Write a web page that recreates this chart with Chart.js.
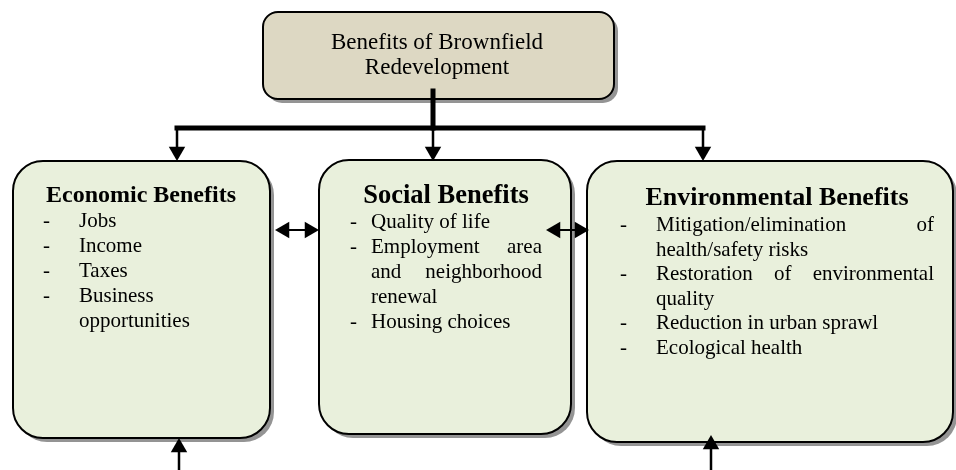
<!DOCTYPE html>
<html>
<head>
<meta charset="utf-8">
<script src="https://cdn.jsdelivr.net/npm/chart.js@4.4.1/dist/chart.umd.min.js"></script>
<style>
  body { margin: 0; background: #ffffff; }
  canvas { display: block; }
</style>
</head>
<body>
<canvas id="diagram" width="956" height="470"></canvas>
<script>
// ===============================
// Diagram content (text)
// ===============================
var titleLines = ["Benefits of Brownfield", "Redevelopment"];
var categories = ["Economic Benefits", "Social Benefits", "Environmental Benefits"];

// each item is a list of wrapped lines
var economicItems = [["Jobs"], ["Income"], ["Taxes"], ["Business", "opportunities"]];
var socialItems = [["Quality of life"], ["Employment area", "and neighborhood", "renewal"], ["Housing choices"]];
var environmentalItems = [
    ["Mitigation/elimination of", "health/safety risks"],
    ["Restoration of environmental", "quality"],
    ["Reduction in urban sprawl"],
    ["Ecological health"]
];
var categoryItems = [economicItems, socialItems, environmentalItems];

// ===============================
// Layout, in diagram units (x 0..956, y 0..470 downwards)
// ===============================
var topBox = { left: 263, right: 614, top: 12, bottom: 99, radius: 15, textX: 437, baselines: [49, 74], fontSize: 23 };
var subBoxes = [
    { left: 13,  right: 270, top: 161, bottom: 438, titleX: 141, titleY: 202, titleSize: 24,
      dashX: 43,  textX: 79,  rightX: 262, firstY: 227, step: 25 },
    { left: 319, right: 571, top: 160, bottom: 434, titleX: 446, titleY: 203, titleSize: 26.5,
      dashX: 350, textX: 371, rightX: 542, firstY: 228, step: 25 },
    { left: 587, right: 953, top: 161, bottom: 442, titleX: 777, titleY: 205, titleSize: 26,
      dashX: 620, textX: 656, rightX: 934, firstY: 231, step: 24.5 }
];

// connector segments: [x1, y1, x2, y2, width]
var connectors = [
    [433, 91, 433, 128, 5],
    [177, 128, 703, 128, 5],
    [177, 128, 177, 150, 2.5],
    [433, 128, 433, 150, 2.5],
    [703, 128, 703, 150, 2.5],
    [280, 230, 314, 230, 2],
    [551, 230, 584, 230, 2],
    [179, 470, 179, 448, 2.5],
    [711, 470, 711, 445, 2.5]
];
// arrow tips: [x, y, direction]
var arrowTips = [
    [177, 161, "down"], [433, 161, "down"], [703, 161, "down"],
    [275, 230, "left"], [319, 230, "right"],
    [546, 230, "left"], [589, 230, "right"],
    [179, 438, "up"], [711, 435, "up"]
];

var ARROW_R = 9.5;
var SERIF = "'Liberation Serif', 'Times New Roman', serif";

// ===============================
// Build datasets from the layout
// ===============================
var datasets = [];
connectors.forEach(function(c) {
    datasets.push({
        type: "line",
        data: [{ x: c[0], y: c[1] }, { x: c[2], y: c[3] }],
        borderColor: "#000000",
        borderWidth: c[4],
        borderCapStyle: c[4] > 3 ? "square" : "butt",
        pointRadius: 0,
        fill: false
    });
});

var rotations = { up: 0, right: 90, down: 180, left: 270 };
var dirs = { up: [0, -1], right: [1, 0], down: [0, 1], left: [-1, 0] };
var arrowPoints = arrowTips.map(function(a) {
    var d = dirs[a[2]];
    // triangle point style is centred, so step back from the tip by its radius
    return { x: a[0] - d[0] * ARROW_R, y: a[1] - d[1] * ARROW_R };
});
datasets.push({
    type: "scatter",
    data: arrowPoints,
    pointStyle: "triangle",
    pointRadius: ARROW_R,
    pointRotation: arrowTips.map(function(a) { return rotations[a[2]]; }),
    backgroundColor: "#000000",
    borderColor: "#000000",
    borderWidth: 0
});

// ===============================
// Plugin: boxes and text under the connectors
// ===============================
function justifyLine(ctx, text, x, y, width) {
    var words = text.split(" ");
    if (words.length < 2) { ctx.fillText(text, x, y); return; }
    var wordsWidth = 0;
    words.forEach(function(w) { wordsWidth += ctx.measureText(w).width; });
    var gap = (width - wordsWidth) / (words.length - 1);
    var cx = x;
    words.forEach(function(w) {
        ctx.fillText(w, cx, y);
        cx += ctx.measureText(w).width + gap;
    });
}

function drawBox(ctx, sx, sy, b, radius, fill) {
    var x1 = sx.getPixelForValue(b.left), x2 = sx.getPixelForValue(b.right);
    var y1 = sy.getPixelForValue(b.top), y2 = sy.getPixelForValue(b.bottom);
    // shadow
    ctx.fillStyle = "rgba(0,0,0,0.42)";
    ctx.beginPath();
    ctx.roundRect(x1 + 4, y1 + 4, x2 - x1, y2 - y1, radius);
    ctx.fill();
    // box
    ctx.fillStyle = fill;
    ctx.strokeStyle = "#000000";
    ctx.lineWidth = 2;
    ctx.beginPath();
    ctx.roundRect(x1, y1, x2 - x1, y2 - y1, radius);
    ctx.fill();
    ctx.stroke();
}

var boxesPlugin = {
    id: "boxes",
    beforeDatasetsDraw: function(chart) {
        var ctx = chart.ctx;
        var sx = chart.scales.x, sy = chart.scales.y;
        ctx.save();

        // top box
        drawBox(ctx, sx, sy, topBox, topBox.radius, "#DDD8C3");
        ctx.fillStyle = "#000000";
        ctx.font = topBox.fontSize + "px " + SERIF;
        ctx.textAlign = "center";
        ctx.textBaseline = "alphabetic";
        titleLines.forEach(function(line, i) {
            ctx.fillText(line, sx.getPixelForValue(topBox.textX), sy.getPixelForValue(topBox.baselines[i]));
        });

        // the three benefit boxes
        subBoxes.forEach(function(b, i) {
            drawBox(ctx, sx, sy, b, 30, "#E9F0DC");
            ctx.fillStyle = "#000000";
            ctx.textAlign = "center";
            ctx.font = "bold " + b.titleSize + "px " + SERIF;
            ctx.fillText(categories[i], sx.getPixelForValue(b.titleX), sy.getPixelForValue(b.titleY));

            ctx.font = "21px " + SERIF;
            var row = 0;
            categoryItems[i].forEach(function(item) {
                ctx.textAlign = "left";
                ctx.fillText("-", sx.getPixelForValue(b.dashX), sy.getPixelForValue(b.firstY + row * b.step));
                item.forEach(function(line, j) {
                    var x = sx.getPixelForValue(b.textX);
                    var y = sy.getPixelForValue(b.firstY + row * b.step);
                    if (j < item.length - 1) {
                        justifyLine(ctx, line, x, y, sx.getPixelForValue(b.rightX) - x);
                    } else {
                        ctx.fillText(line, x, y);
                    }
                    row++;
                });
            });
        });
        ctx.restore();
    }
};

// ===============================
// The chart
// ===============================
var diagram = new Chart(document.getElementById("diagram").getContext("2d"), {
    type: "scatter",
    data: { datasets: datasets },
    options: {
        responsive: false,
        animation: false,
        layout: { padding: 0, autoPadding: false },
        plugins: { legend: { display: false }, tooltip: { enabled: false } },
        scales: {
            x: { type: "linear", min: 0, max: 956, display: false },
            y: { type: "linear", min: 0, max: 470, reverse: true, display: false }
        }
    },
    plugins: [boxesPlugin]
});
</script>
</body>
</html>
